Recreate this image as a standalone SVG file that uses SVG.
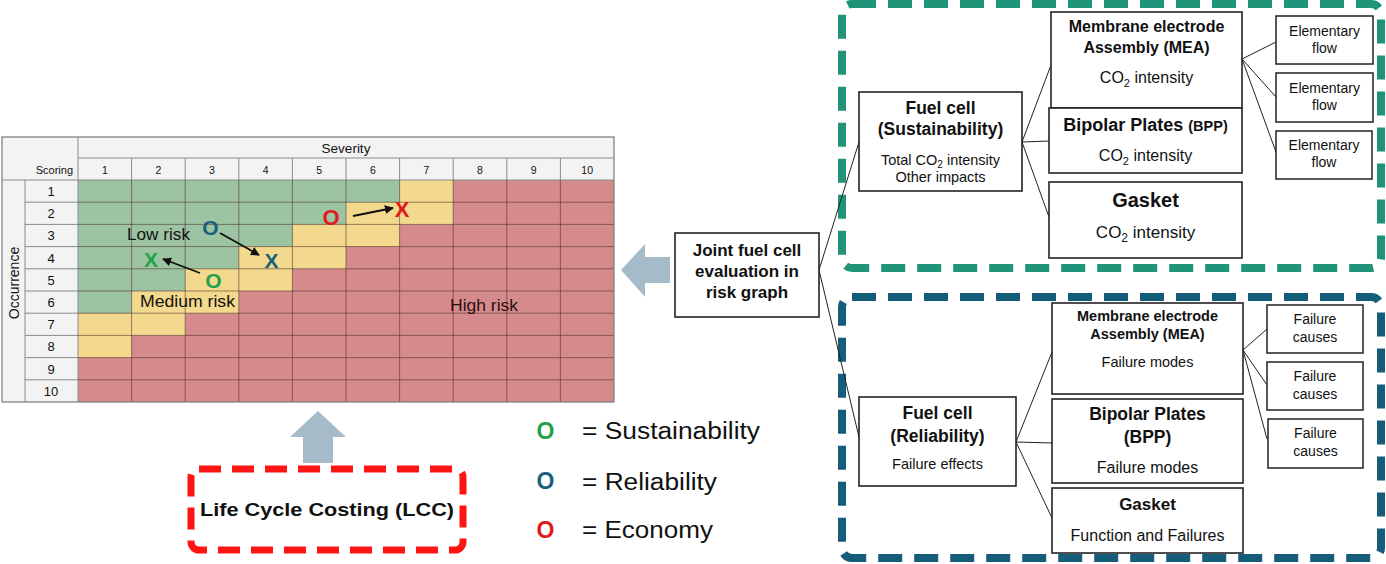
<svg xmlns="http://www.w3.org/2000/svg" width="1386" height="564" viewBox="0 0 1386 564">
<style>
text{font-family:"Liberation Sans",Arial,sans-serif;fill:#111}
.b{font-weight:bold}
.hdr{font-size:10.5px;text-anchor:middle}
.rn{font-size:13px;text-anchor:middle}
.box{fill:#fff;stroke:#222;stroke-width:1.6}
.sbox{fill:#fff;stroke:#222;stroke-width:1.5}
.ln{stroke:#222;stroke-width:1;fill:none}
.gl{stroke:#4a2a2a;stroke-opacity:0.55;stroke-width:1}
.hl{stroke:#8a8a8a;stroke-width:1}
.mk{font-weight:bold;text-anchor:middle}
.c{text-anchor:middle}
.ar{stroke:#111;stroke-width:1.8;fill:none;marker-end:url(#ah)}
text.gr{fill:#22a04c}
text.bl{fill:#1b5f7e}
text.rd{fill:#e01a1a}
text.hr{fill:#2a1010}
</style>
<defs>
<marker id="ah" viewBox="0 0 10 10" refX="9" refY="5" markerWidth="5" markerHeight="5" orient="auto"><path d="M0,0 L10,5 L0,10 Z" fill="#111"/></marker>
</defs>
<rect width="1386" height="564" fill="#fff"/>

<g id="risk-graph">
<rect x="2" y="137" width="612" height="265" fill="#f3f3f3"/>
<rect x="78" y="180" width="536" height="222" fill="#d58a8c"/>
<polygon fill="#f3d98d" points="78,180 453.2,180 453.2,224.4 399.6,224.4 399.6,246.6 346,246.6 346,268.8 292.4,268.8 292.4,291 238.8,291 238.8,313.2 185.2,313.2 185.2,335.4 131.6,335.4 131.6,357.6 78,357.6"/>
<polygon fill="#9dc4a2" points="78,180 399.6,180 399.6,202.2 346,202.2 346,224.4 292.4,224.4 292.4,246.6 238.8,246.6 238.8,268.8 185.2,268.8 185.2,291 131.6,291 131.6,313.2 78,313.2"/>
<g class="hl">
<line x1="78" y1="158" x2="614" y2="158"/>
<line x1="2" y1="180" x2="614" y2="180"/>
<line x1="78" y1="137" x2="78" y2="402"/>
<line x1="25" y1="180" x2="25" y2="402"/>
<line x1="25" y1="202.2" x2="78" y2="202.2"/><line x1="25" y1="224.4" x2="78" y2="224.4"/><line x1="25" y1="246.6" x2="78" y2="246.6"/><line x1="25" y1="268.8" x2="78" y2="268.8"/><line x1="25" y1="291" x2="78" y2="291"/><line x1="25" y1="313.2" x2="78" y2="313.2"/><line x1="25" y1="335.4" x2="78" y2="335.4"/><line x1="25" y1="357.6" x2="78" y2="357.6"/><line x1="25" y1="379.8" x2="78" y2="379.8"/>
<line x1="131.6" y1="158" x2="131.6" y2="180"/><line x1="185.2" y1="158" x2="185.2" y2="180"/><line x1="238.8" y1="158" x2="238.8" y2="180"/><line x1="292.4" y1="158" x2="292.4" y2="180"/><line x1="346" y1="158" x2="346" y2="180"/><line x1="399.6" y1="158" x2="399.6" y2="180"/><line x1="453.2" y1="158" x2="453.2" y2="180"/><line x1="506.8" y1="158" x2="506.8" y2="180"/><line x1="560.4" y1="158" x2="560.4" y2="180"/>
</g>
<g class="gl">
<line x1="131.6" y1="180" x2="131.6" y2="402"/><line x1="185.2" y1="180" x2="185.2" y2="402"/><line x1="238.8" y1="180" x2="238.8" y2="402"/><line x1="292.4" y1="180" x2="292.4" y2="402"/><line x1="346" y1="180" x2="346" y2="402"/><line x1="399.6" y1="180" x2="399.6" y2="402"/><line x1="453.2" y1="180" x2="453.2" y2="402"/><line x1="506.8" y1="180" x2="506.8" y2="402"/><line x1="560.4" y1="180" x2="560.4" y2="402"/>
<line x1="78" y1="202.2" x2="614" y2="202.2"/><line x1="78" y1="224.4" x2="614" y2="224.4"/><line x1="78" y1="246.6" x2="614" y2="246.6"/><line x1="78" y1="268.8" x2="614" y2="268.8"/><line x1="78" y1="291" x2="614" y2="291"/><line x1="78" y1="313.2" x2="614" y2="313.2"/><line x1="78" y1="335.4" x2="614" y2="335.4"/><line x1="78" y1="357.6" x2="614" y2="357.6"/><line x1="78" y1="379.8" x2="614" y2="379.8"/>
</g>
<rect x="2" y="137" width="612" height="265" fill="none" stroke="#7a7a7a" stroke-width="1.2"/>
<text x="346" y="153" class="c" font-size="13.5px">Severity</text>
<text x="73" y="174" font-size="11px" text-anchor="end">Scoring</text>
<g class="hdr">
<text x="104.8" y="174">1</text><text x="158.4" y="174">2</text><text x="212" y="174">3</text><text x="265.6" y="174">4</text><text x="319.2" y="174">5</text><text x="372.8" y="174">6</text><text x="426.4" y="174">7</text><text x="480" y="174">8</text><text x="533.6" y="174">9</text><text x="587.2" y="174">10</text>
</g>
<g class="rn">
<text x="51" y="196">1</text><text x="51" y="218.2">2</text><text x="51" y="240.4">3</text><text x="51" y="262.6">4</text><text x="51" y="284.8">5</text><text x="51" y="307">6</text><text x="51" y="329.2">7</text><text x="51" y="351.4">8</text><text x="51" y="373.6">9</text><text x="51" y="395.8">10</text>
</g>
<text transform="translate(19,283) rotate(-90)" class="c" font-size="14px">Occurrence</text>
<text x="127" y="240" font-size="16px" textLength="63" lengthAdjust="spacingAndGlyphs">Low risk</text>
<text x="140" y="307" font-size="16px" textLength="95" lengthAdjust="spacingAndGlyphs">Medium risk</text>
<text x="450" y="311" class="hr" font-size="16px" textLength="68" lengthAdjust="spacingAndGlyphs">High risk</text>
<line class="ar" x1="220" y1="233" x2="259" y2="255"/>
<line class="ar" x1="200" y1="273" x2="163" y2="259"/>
<line class="ar" x1="353" y1="216" x2="393" y2="208"/>
<text x="210.5" y="235" class="mk bl" font-size="21px">O</text>
<text x="271.5" y="268" class="mk bl" font-size="21px">X</text>
<text x="151" y="267" class="mk gr" font-size="21px">X</text>
<text x="213.5" y="288" class="mk gr" font-size="21px">O</text>
<text x="331" y="224.5" class="mk rd" font-size="22px">O</text>
<text x="402" y="217" class="mk rd" font-size="22px">X</text>
</g>

<g id="legend">
<text x="545.5" y="439" class="mk gr" font-size="23px">O</text>
<text x="582" y="439" font-size="23px" textLength="178" lengthAdjust="spacingAndGlyphs">= Sustainability</text>
<text x="545.5" y="489" class="mk bl" font-size="23px">O</text>
<text x="582" y="490" font-size="23px" textLength="135" lengthAdjust="spacingAndGlyphs">= Reliability</text>
<text x="545.5" y="538" class="mk rd" font-size="23px">O</text>
<text x="582" y="538" font-size="23px" textLength="131" lengthAdjust="spacingAndGlyphs">= Economy</text>
</g>

<g id="arrow-up">
<polygon fill="#a6bbc9" points="318,411 346,437 333,437 333,463 303,463 303,437 290,437"/>
</g>
<g id="arrow-left">
<polygon fill="#a6bbc9" points="621,270 645,244 645,257 670,257 670,283 645,283 645,297"/>
</g>

<g id="lcc">
<rect x="191" y="469" width="272" height="81" rx="8" fill="#fff" stroke="#ff1414" stroke-width="7" stroke-dasharray="22 11"/>
<text x="327" y="516" class="b c" font-size="19px" textLength="254" lengthAdjust="spacingAndGlyphs">Life Cycle Costing (LCC)</text>
</g>

<g id="sustainability-frame">
<rect x="842" y="4" width="539" height="264" rx="10" fill="none" stroke="#1f9479" stroke-width="8" stroke-dasharray="24 12"/>
</g>
<g id="reliability-frame">
<rect x="842" y="297" width="539" height="261" rx="10" fill="none" stroke="#165c7b" stroke-width="8" stroke-dasharray="24 12"/>
</g>

<g id="connectors">
<line class="ln" x1="819" y1="270" x2="859" y2="142"/>
<line class="ln" x1="819" y1="270" x2="859" y2="437"/>
<line class="ln" x1="1022" y1="142" x2="1051" y2="65"/>
<line class="ln" x1="1022" y1="142" x2="1049" y2="141"/>
<line class="ln" x1="1022" y1="142" x2="1049" y2="217"/>
<line class="ln" x1="1242" y1="59" x2="1276" y2="42"/>
<line class="ln" x1="1242" y1="59" x2="1276" y2="97"/>
<line class="ln" x1="1242" y1="59" x2="1276" y2="152"/>
<line class="ln" x1="1016" y1="442" x2="1052" y2="352"/>
<line class="ln" x1="1016" y1="442" x2="1052" y2="443"/>
<line class="ln" x1="1016" y1="442" x2="1052" y2="518"/>
<line class="ln" x1="1243" y1="350" x2="1267" y2="329"/>
<line class="ln" x1="1243" y1="350" x2="1267" y2="385"/>
<line class="ln" x1="1243" y1="350" x2="1267" y2="439"/>
</g>

<g id="joint">
<rect class="box" x="675" y="233" width="144" height="84"/>
<text class="b c" font-size="17px" x="747" y="256">Joint fuel cell</text>
<text class="b c" font-size="17px" x="747" y="277">evaluation in</text>
<text class="b c" font-size="17px" x="747" y="298">risk graph</text>
</g>

<g id="fc-sustainability">
<rect class="box" x="859" y="92" width="163" height="99"/>
<text class="b c" font-size="17.5px" x="940.5" y="114">Fuel cell</text>
<text class="b c" font-size="17.5px" x="940.5" y="135">(Sustainability)</text>
<text class="c" font-size="14.5px" x="940.5" y="165">Total CO<tspan font-size="10px" dy="3">2</tspan><tspan dy="-3"> intensity</tspan></text>
<text class="c" font-size="14.5px" x="940.5" y="182">Other impacts</text>
</g>

<g id="mea-s">
<rect class="box" x="1051" y="12" width="191" height="96"/>
<text class="b c" font-size="16px" x="1146.5" y="32">Membrane electrode</text>
<text class="b c" font-size="16px" x="1146.5" y="53">Assembly (MEA)</text>
<text class="c" font-size="16px" x="1146.5" y="83">CO<tspan font-size="11px" dy="4">2</tspan><tspan dy="-4"> intensity</tspan></text>
</g>
<g id="bpp-s">
<rect class="box" x="1049" y="108" width="193" height="65"/>
<text class="b c" font-size="18px" x="1145.5" y="131">Bipolar Plates <tspan font-size="14.5px">(BPP)</tspan></text>
<text class="c" font-size="16px" x="1145.5" y="161">CO<tspan font-size="11px" dy="4">2</tspan><tspan dy="-4"> intensity</tspan></text>
</g>
<g id="gasket-s">
<rect class="box" x="1049" y="182" width="193" height="76"/>
<text class="b c" font-size="20px" x="1145.5" y="207">Gasket</text>
<text class="c" font-size="17px" x="1145.5" y="238">CO<tspan font-size="12px" dy="4">2</tspan><tspan dy="-4"> intensity</tspan></text>
</g>
<g id="flow-1">
<rect class="sbox" x="1276" y="16" width="97" height="48"/>
<text class="c" font-size="14px" x="1324.5" y="36">Elementary</text>
<text class="c" font-size="14px" x="1324.5" y="53">flow</text>
</g>
<g id="flow-2">
<rect class="sbox" x="1276" y="73" width="97" height="49"/>
<text class="c" font-size="14px" x="1324.5" y="93">Elementary</text>
<text class="c" font-size="14px" x="1324.5" y="110">flow</text>
</g>
<g id="flow-3">
<rect class="sbox" x="1276" y="131" width="96" height="48"/>
<text class="c" font-size="14px" x="1324" y="150">Elementary</text>
<text class="c" font-size="14px" x="1324" y="167">flow</text>
</g>

<g id="fc-reliability">
<rect class="box" x="859" y="397" width="157" height="89"/>
<text class="b c" font-size="17.5px" x="937.5" y="419">Fuel cell</text>
<text class="b c" font-size="17.5px" x="937.5" y="442">(Reliability)</text>
<text class="c" font-size="14.5px" x="937.5" y="469">Failure effects</text>
</g>
<g id="mea-r">
<rect class="box" x="1052" y="303" width="191" height="91"/>
<text class="b c" font-size="14.5px" x="1147.5" y="321">Membrane electrode</text>
<text class="b c" font-size="14.5px" x="1147.5" y="339">Assembly (MEA)</text>
<text class="c" font-size="14.5px" x="1147.5" y="367">Failure modes</text>
</g>
<g id="bpp-r">
<rect class="box" x="1052" y="399" width="191" height="84"/>
<text class="b c" font-size="17.5px" x="1147.5" y="420">Bipolar Plates</text>
<text class="b c" font-size="17.5px" x="1147.5" y="443">(BPP)</text>
<text class="c" font-size="16px" x="1147.5" y="473">Failure modes</text>
</g>
<g id="gasket-r">
<rect class="box" x="1052" y="488" width="191" height="65"/>
<text class="b c" font-size="17px" x="1147.5" y="510">Gasket</text>
<text class="c" font-size="16px" x="1147.5" y="541">Function and Failures</text>
</g>
<g id="cause-1">
<rect class="sbox" x="1267" y="305" width="96" height="48"/>
<text class="c" font-size="14px" x="1315" y="324">Failure</text>
<text class="c" font-size="14px" x="1315" y="342">causes</text>
</g>
<g id="cause-2">
<rect class="sbox" x="1267" y="362" width="96" height="48"/>
<text class="c" font-size="14px" x="1315" y="381">Failure</text>
<text class="c" font-size="14px" x="1315" y="399">causes</text>
</g>
<g id="cause-3">
<rect class="sbox" x="1268" y="419" width="95" height="49"/>
<text class="c" font-size="14px" x="1315.5" y="438">Failure</text>
<text class="c" font-size="14px" x="1315.5" y="456">causes</text>
</g>
</svg>
